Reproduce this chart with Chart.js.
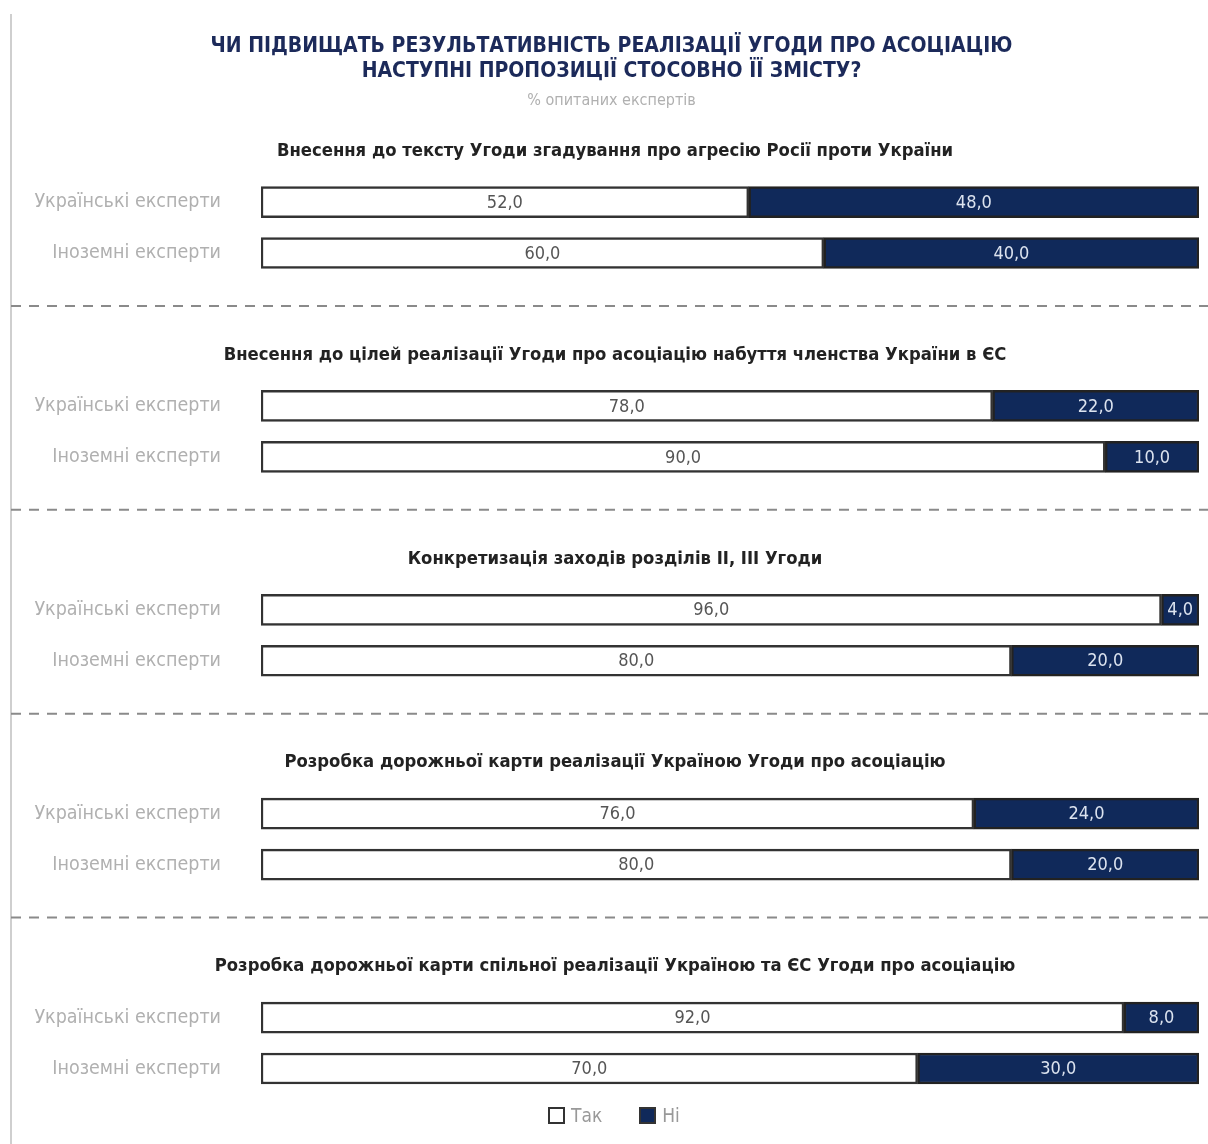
<!DOCTYPE html>
<html>
<head>
<meta charset="utf-8">
<script src="https://cdn.jsdelivr.net/npm/chart.js@4.4.1/dist/chart.umd.min.js"></script>
<style>
  body { margin: 0; background: #fff; }
  #wrap { position: relative; width: 1208px; height: 1144px; }
  #legend {
    position: absolute; left: 548px; top: 1104px;
    display: flex; align-items: center;
    font: 19px 'Liberation Sans Narrow', 'DejaVu Sans Condensed', sans-serif; color: #999;
  }
  #legend .item { display: flex; align-items: center; margin-right: 37px; }
  #legend .box { width: 13px; height: 13px; border: 2px solid #333; margin-right: 6px; }
</style>
</head>
<body>
<div id="wrap">
  <canvas id="chart" width="1208" height="1144"></canvas>
  <div id="legend"></div>
</div>
<script>
// заголовки блоків
const groupTitles = [
  'Внесення до тексту Угоди згадування про агресію Росії проти України',
  'Внесення до цілей реалізації Угоди про асоціацію набуття членства України в ЄС',
  'Конкретизація заходів розділів ІІ, ІІІ Угоди',
  'Розробка дорожньої карти реалізації Україною Угоди про асоціацію',
  'Розробка дорожньої карти спільної реалізації Україною та ЄС Угоди про асоціацію'
];
const rowLabels = ['Українські експерти', 'Іноземні експерти'];
const yesValues = [52, 60, 78, 90, 96, 80, 76, 80, 92, 70];
const noValues = [48, 40, 22, 10, 4, 20, 24, 20, 8, 30];
const seriesNames = ['Так', 'Ні'];

const FONT = "'Liberation Sans Narrow', 'DejaVu Sans Condensed', 'Liberation Sans', sans-serif";
const NAVY = '#10295a';
const CENTER_X = 615;

// слоти: заголовок, укр, іноз, розділювач
const labels = [], yesData = [], noData = [], slotType = [];
groupTitles.forEach((t, g) => {
  labels.push(''); yesData.push(null); noData.push(null); slotType.push({ kind: 'title', text: t });
  for (let r = 0; r < 2; r++) {
    labels.push(rowLabels[r]);
    yesData.push(yesValues[g * 2 + r]);
    noData.push(noValues[g * 2 + r]);
    slotType.push({ kind: 'bar' });
  }
  if (g < groupTitles.length - 1) {
    labels.push(''); yesData.push(null); noData.push(null); slotType.push({ kind: 'sep' });
  }
});

const decorPlugin = {
  id: 'decor',
  beforeDraw(chart) {
    const ctx = chart.ctx;
    ctx.save();
    ctx.strokeStyle = '#cfcfcf';
    ctx.lineWidth = 2;
    ctx.beginPath();
    ctx.moveTo(11, 14);
    ctx.lineTo(11, chart.height);
    ctx.stroke();
    ctx.restore();
  },
  afterDatasetsDraw(chart) {
    const ctx = chart.ctx;
    const yScale = chart.scales.y;
    ctx.save();
    slotType.forEach((s, i) => {
      const y = yScale.getPixelForValue(i);
      if (s.kind === 'title') {
        ctx.font = 'bold 18.3px ' + FONT;
        ctx.fillStyle = '#222';
        ctx.textAlign = 'center';
        ctx.textBaseline = 'middle';
        ctx.fillText(s.text, CENTER_X, y);
      } else if (s.kind === 'sep') {
        ctx.strokeStyle = '#8a8a8a';
        ctx.lineWidth = 2;
        ctx.setLineDash([10, 8]);
        ctx.beginPath();
        ctx.moveTo(11, y + 2);
        ctx.lineTo(chart.width, y + 2);
        ctx.stroke();
        ctx.setLineDash([]);
      }
    });
    // значення всередині сегментів
    ctx.font = '18px ' + FONT;
    ctx.textAlign = 'center';
    ctx.textBaseline = 'middle';
    chart.data.datasets.forEach((ds, di) => {
      const meta = chart.getDatasetMeta(di);
      meta.data.forEach((el, i) => {
        const v = ds.data[i];
        if (v == null) return;
        const p = el.getProps(['x', 'y', 'base'], true);
        ctx.fillStyle = di === 0 ? '#555' : '#dce3ef';
        ctx.fillText(v.toFixed(1).replace('.', ','), (p.x + p.base) / 2, p.y + 1);
      });
    });
    ctx.restore();
  }
};

const chart = new Chart(document.getElementById('chart'), {
  type: 'bar',
  data: {
    labels: labels,
    datasets: [
      { label: seriesNames[0], data: yesData, backgroundColor: '#ffffff', borderColor: '#333', borderWidth: 2.5, borderSkipped: false },
      { label: seriesNames[1], data: noData, backgroundColor: NAVY, borderColor: '#222', borderWidth: 2.5, borderSkipped: false }
    ]
  },
  options: {
    indexAxis: 'y',
    responsive: false,
    animation: false,
    layout: { padding: { left: 24, right: 9, top: 0, bottom: 50 } },
    plugins: {
      title: {
        display: true,
        text: ['ЧИ ПІДВИЩАТЬ РЕЗУЛЬТАТИВНІСТЬ РЕАЛІЗАЦІЇ УГОДИ ПРО АСОЦІАЦІЮ', 'НАСТУПНІ ПРОПОЗИЦІЇ СТОСОВНО ЇЇ ЗМІСТУ?'],
        color: '#1c2a5a',
        font: { family: FONT, size: 21, weight: 'bold', lineHeight: 1.2 },
        padding: { top: 34, bottom: 7 }
      },
      subtitle: {
        display: true,
        text: '% опитаних експертів',
        color: '#b0b0b0',
        font: { family: FONT, size: 16 },
        padding: { top: 0, bottom: 15 }
      },
      legend: { display: false },
      tooltip: { enabled: false }
    },
    scales: {
      x: {
        stacked: true,
        min: 0,
        max: 100,
        display: false
      },
      y: {
        stacked: true,
        grid: { display: false },
        border: { display: false },
        afterFit(scale) { scale.width = 237; },
        ticks: {
          color: '#b0b0b0',
          padding: 32,
          font: { family: FONT, size: 19.5 },
          autoSkip: false
        }
      }
    },
    datasets: { bar: { barThickness: 31 } }
  },
  plugins: [decorPlugin]
});

// легенда з наборів даних
const legendEl = document.getElementById('legend');
chart.data.datasets.forEach(ds => {
  const item = document.createElement('span');
  item.className = 'item';
  const box = document.createElement('span');
  box.className = 'box';
  box.style.background = ds.backgroundColor;
  item.appendChild(box);
  item.appendChild(document.createTextNode(ds.label));
  legendEl.appendChild(item);
});
</script>
</body>
</html>
